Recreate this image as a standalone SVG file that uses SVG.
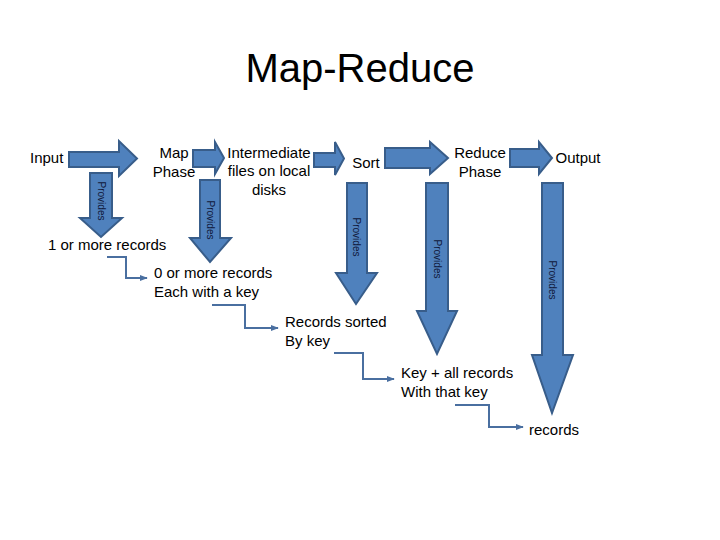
<svg xmlns="http://www.w3.org/2000/svg" width="720" height="540" viewBox="0 0 720 540">
<defs>
<style>
.bg{fill:#ffffff}
.blk{fill:#4F81BD;stroke:#385D8A;stroke-width:2;stroke-linejoin:miter}
.t{font-family:"Liberation Sans",Arial,sans-serif;font-size:15px;fill:#000}
.tc{text-anchor:middle}
.ttl{font-family:"Liberation Sans",Arial,sans-serif;font-size:40px;fill:#000;text-anchor:middle}
.pv{font-family:"Liberation Sans",Arial,sans-serif;font-size:10px;fill:#10183a;text-anchor:middle}
.cn{fill:none;stroke:#4A6FA0;stroke-width:2}
</style>
<marker id="ah" viewBox="0 0 10 10" refX="9" refY="5" markerWidth="4" markerHeight="4" orient="auto" markerUnits="strokeWidth">
<path d="M0,1 L10,5 L0,9 Z" fill="#4A6FA0"/>
</marker>
</defs>
<rect class="bg" x="0" y="0" width="720" height="540"/>
<text class="ttl" x="360" y="82">Map-Reduce</text>

<g id="arrow-input-map"><polygon class="blk" points="69,152 119,152 119,141 137,158.5 119,176 119,167 69,167"/></g>
<g id="arrow-map-inter"><polygon class="blk" points="193,150 215,150 215,142 224,158 215,174 215,167 193,167"/></g>
<g id="arrow-inter-sort"><polygon class="blk" points="314,153 335,153 335,142 344,158.5 335,175 335,167 314,167"/></g>
<g id="arrow-sort-reduce"><polygon class="blk" points="385,148 430,148 430,142 448,158 430,174 430,168 385,168"/></g>
<g id="arrow-reduce-output"><polygon class="blk" points="510,149 539,149 539,142 552,158 539,174 539,167 510,167"/></g>

<g id="provides-input"><polygon class="blk" points="90,173 112,173 112,218 122,218 101,237 80,218 90,218"/><text class="pv" transform="translate(98,201) rotate(90)">Provides</text></g>
<g id="provides-map"><polygon class="blk" points="200,180 220,180 220,238 231,238 210,262 190,238 200,238"/><text class="pv" transform="translate(207,220) rotate(90)">Provides</text></g>
<g id="provides-sort"><polygon class="blk" points="347,183 367,183 367,273 377,273 356,304 336,273 347,273"/><text class="pv" transform="translate(353,237) rotate(90)">Provides</text></g>
<g id="provides-reduce"><polygon class="blk" points="426,183 448,183 448,311 457,311 437,354 417,311 426,311"/><text class="pv" transform="translate(434,259) rotate(90)">Provides</text></g>
<g id="provides-output"><polygon class="blk" points="542,183 563,183 563,355 573,355 552,413 532,355 542,355"/><text class="pv" transform="translate(549,280) rotate(90)">Provides</text></g>

<g id="node-input"><text class="t" x="30" y="163">Input</text></g>
<g id="node-map"><text class="t tc" x="174" y="158">Map</text><text class="t tc" x="174" y="177">Phase</text></g>
<g id="node-inter"><text class="t tc" x="269" y="158">Intermediate</text><text class="t tc" x="269" y="176">files on local</text><text class="t tc" x="269" y="195">disks</text></g>
<g id="node-sort"><text class="t tc" x="366" y="168">Sort</text></g>
<g id="node-reduce"><text class="t tc" x="480" y="158">Reduce</text><text class="t tc" x="480" y="177">Phase</text></g>
<g id="node-output"><text class="t tc" x="578" y="163">Output</text></g>
<g id="node-rec1"><text class="t" x="48" y="250">1 or more records</text></g>
<g id="node-rec2"><text class="t" x="154" y="278">0 or more records</text><text class="t" x="154" y="297">Each with a key</text></g>
<g id="node-rec3"><text class="t" x="285" y="327">Records sorted</text><text class="t" x="285" y="346">By key</text></g>
<g id="node-rec4"><text class="t" x="401" y="378">Key + all records</text><text class="t" x="401" y="397">With that key</text></g>
<g id="node-rec5"><text class="t" x="529" y="435">records</text></g>

<g id="connectors">
<polyline class="cn" marker-end="url(#ah)" points="107,257 126,257 126,278 147,278"/>
<polyline class="cn" marker-end="url(#ah)" points="212,305 245,305 245,328 278,328"/>
<polyline class="cn" marker-end="url(#ah)" points="334,353 363,353 363,379 394,379"/>
<polyline class="cn" marker-end="url(#ah)" points="455,405 489,405 489,427 523,427"/>
</g>
</svg>
